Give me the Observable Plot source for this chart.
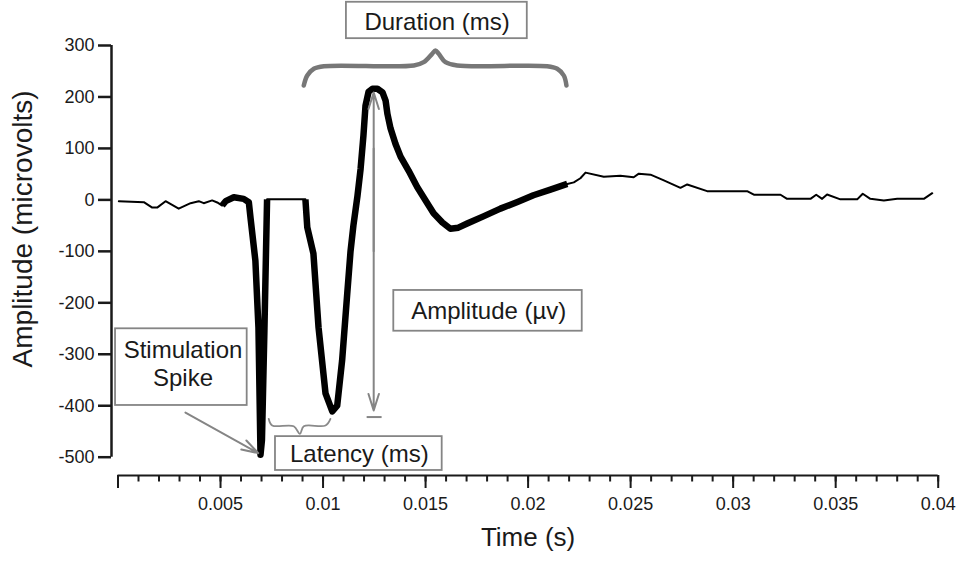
<!DOCTYPE html>
<html><head><meta charset="utf-8">
<script src="https://cdn.jsdelivr.net/npm/d3@7"></script>
<script src="https://cdn.jsdelivr.net/npm/@observablehq/plot@0.6"></script>
<style>body{margin:0;background:#fff}</style>
</head><body><div id="chart"></div>
<script>
// Recorded trace (time in s, amplitude in microvolts)
const time = [0.00004,0.00126,0.00167,0.00191,0.00232,0.00296,0.00354,0.00394,0.00418,0.00459,0.00484,0.00508,
  0.00525,0.00565,0.00613,0.00638,0.00646,0.0067,0.00685,0.00695,0.00702,0.00714,0.00727,
  0.00914,0.00923,0.00953,0.00978,0.01012,0.01045,0.01069,0.01093,0.01118,0.01134,
  0.01148,0.01168,0.01183,0.01197,0.01207,0.01222,0.01241,0.01265,0.0129,0.01305,
  0.01314,0.01329,0.01353,0.01378,0.01417,0.01459,0.015,0.01539,0.01582,0.01621,
  0.0166,0.01703,0.01782,0.01865,0.01948,0.02026,0.02109,0.02191,
  0.02223,0.02255,0.0228,0.02369,0.0245,0.02515,0.0254,0.02597,0.02662,0.02743,
  0.02776,0.02873,0.03068,0.03101,0.03231,0.03263,0.03377,0.03405,0.03434,0.03458,
  0.03523,0.03605,0.03632,0.03669,0.03735,0.038,0.0393,0.03971];
const amplitude = [-2.5,-4.5,-15,-15,-2.5,-17,-6.4,-2.5,-6.4,-1,-5,-11,
  -2.5,5,2,-4.5,-34,-118,-248,-495,-467,-254,1,
  1,-53,-104,-248,-376,-411,-400,-312,-182,-100,
  -50,8,60,125,183,210,216,216,209,193,
  167,139,109,84,57,25,-1,-26,-44,-56,
  -54,-46,-32,-17,-4,9,20,31,
  34,42,53,45,47,44,51,49,38,23.5,
  30,17,17,10,10,2,2,10,2,10.5,
  1,1,12,2,-1,2,2,13];

// Highlighted (thick) portions of the trace, by time
const thickSpans = [[0.00508, 0.00727], [0.00914, 0.02191]];

// Axes
const xTicks = [0, 0.005, 0.01, 0.015, 0.02, 0.025, 0.03, 0.035, 0.04];
const xTickLabels = ["", "0.005", "0.01", "0.015", "0.02", "0.025", "0.03", "0.035", "0.04"];
const xMinorTicks = d3.range(0, 41).map(i => i / 1000);
const yTicks = [300, 200, 100, 0, -100, -200, -300, -400, -500];
const yTickLabels = ["300", "200", "100", "0", "-100", "-200", "-300", "-400", "-500"];

// Annotation boxes (data coordinates)
const boxLabels = ["Duration (ms)", "Amplitude (µv)", "Latency (ms)", "Stimulation\nSpike"];
const boxT1 = [0.01114, 0.01345, 0.00768, -0.00012];
const boxT2 = [0.01996, 0.02264, 0.01581, 0.0063];
const boxV1 = [384, -176, -460, -250.5];
const boxV2 = [313.3, -255.2, -525.8, -399.5];
const labelT = [0.01556, 0.01808, 0.01177, 0.00317];
const labelV = [347.5, -213.9, -491.5, -317.9];

// Braces
const durBraceT = [0.00906,0.00923,0.00955,0.01004,0.01443,0.01491,0.01532,0.01548,0.01564,0.01597,0.01654,0.02093,0.02142,0.02174,0.02187];
const durBraceV = [222.3,241.7,254.8,259.8,261.2,267.6,283.9,290.3,283.9,267.6,261.2,259.8,254.8,241.7,222.3];
const latBraceT = [0.00735,0.00752,0.00857,0.00887,0.00906,0.01012,0.01036];
const latBraceV = [-425.4,-438.4,-439.8,-454.5,-439.8,-438.4,-425.4];

// Arrows
const arrows = [
  {t1: 0.01247, v1: -100, t2: 0.01247, v2: 208.7},
  {t1: 0.01247, v1: 100, t2: 0.01247, v2: -409.2},
  {t1: 0.00329, v1: -413.2, t2: 0.00684, v2: -492}
];
const amplitudeBar = [{t1: 0.01215, t2: 0.01288, v: -422}];

const trace = time.map((t, i) => ({t, v: amplitude[i]}));
const thick = [];
thickSpans.forEach(([a, b], k) => trace.forEach(d => { if (d.t >= a && d.t <= b) thick.push({...d, seg: k}); }));
const boxes = boxLabels.map((label, i) => ({label, t1: boxT1[i], t2: boxT2[i], v1: boxV1[i], v2: boxV2[i], tx: labelT[i], ty: labelV[i]}));
const durBrace = durBraceT.map((t, i) => ({t, v: durBraceV[i]}));
const latBrace = latBraceT.map((t, i) => ({t, v: latBraceV[i]}));

const font = "'Liberation Sans', Arial, Helvetica, sans-serif";
const ink = "#1a1a1a";
const gray = "#858585";

const chart = Plot.plot({
  width: 957,
  height: 566,
  marginLeft: 117.5,
  marginRight: 19.3,
  marginTop: 45,
  marginBottom: 109.3,
  x: {domain: [0, 0.04]},
  y: {domain: [-500, 300]},
  style: {fontFamily: font, background: "#fff", color: ink},
  marks: [
    // axes
    Plot.ruleX([0], {dx: -6.5, stroke: ink, strokeWidth: 2.5}),
    Plot.axisY({ticks: yTicks, anchor: "left", tickSize: 13, tickPadding: 4, dx: -6.5, fontSize: 18, strokeWidth: 2.5, color: ink, label: null,
      tickFormat: d => yTickLabels[yTicks.indexOf(d)]}),
    Plot.ruleY([-500], {dy: 18.3, stroke: ink, strokeWidth: 2}),
    Plot.axisX({ticks: xMinorTicks, anchor: "bottom", tickSize: 6.5, dy: 18.3, strokeWidth: 2, color: ink, label: null, tickFormat: () => ""}),
    Plot.axisX({ticks: xTicks, anchor: "bottom", tickSize: 13, tickPadding: 9, dy: 18.3, fontSize: 18, strokeWidth: 2, color: ink, label: null,
      tickFormat: d => xTickLabels[xTicks.indexOf(d)]}),
    Plot.text(["Time (s)"], {frameAnchor: "bottom", textAnchor: "middle", dy: 88.3, fontSize: 26, fill: ink}),
    Plot.text(["Amplitude (microvolts)"], {frameAnchor: "left", textAnchor: "middle", dx: -94.8, dy: -22.4, rotate: -90, fontSize: 28, fill: ink}),
    // trace
    Plot.line(trace, {x: "t", y: "v", stroke: "#000", strokeWidth: 2}),
    Plot.line(thick, {x: "t", y: "v", z: "seg", stroke: "#000", strokeWidth: 6.5, strokeLinejoin: "round", strokeLinecap: "butt"}),
    // braces
    Plot.line(durBrace, {x: "t", y: "v", curve: "catmull-rom", stroke: "#777", strokeWidth: 4.5, strokeLinecap: "round"}),
    Plot.line(latBrace, {x: "t", y: "v", curve: "catmull-rom", stroke: "#8a8a8a", strokeWidth: 1.8}),
    // arrows
    Plot.arrow(arrows, {x1: "t1", y1: "v1", x2: "t2", y2: "v2", stroke: gray, strokeWidth: 2, headLength: 13, headAngle: 35}),
    Plot.ruleY(amplitudeBar, {x1: "t1", x2: "t2", y: "v", stroke: gray, strokeWidth: 2}),
    // boxes
    Plot.rect(boxes, {x1: "t1", x2: "t2", y1: "v1", y2: "v2", fill: "#fff", stroke: gray, strokeWidth: 1.8}),
    Plot.text(boxes, {x: "tx", y: "ty", text: "label", fontSize: 24, fill: ink, lineHeight: 1.1667})
  ]
});
document.getElementById("chart").appendChild(chart);
</script>
</body></html>
